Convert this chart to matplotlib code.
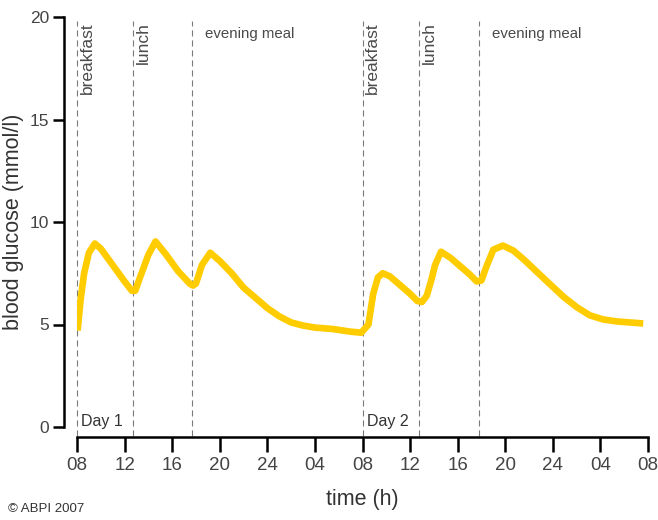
import matplotlib
matplotlib.use("Agg")
import matplotlib.pyplot as plt

# hours since 08:00 on day 1, blood glucose in mmol/l
hours = [0.05, 0.3, 0.6, 1.0, 1.5, 2.0, 3.0, 4.0, 4.6, 4.9, 5.3, 6.0, 6.6,
         7.5, 8.5, 9.5, 9.75, 10.0, 10.5, 11.2, 12.0, 13.0, 14.0, 15.0, 16.0,
         17.0, 18.0, 19.0, 20.0, 21.5, 23.0, 23.9, 24.5, 24.9, 25.3, 25.7,
         26.3, 27.1, 28.0, 28.6, 29.0, 29.4, 29.8, 30.1, 30.6, 31.4, 32.2, 33.0,
         33.6, 34.0, 34.4, 35.0, 35.8, 36.7, 37.6, 38.6, 39.7, 40.9, 42.0, 43.1,
         44.2, 45.35, 46.5, 47.6]
glucose = [4.7, 6.2, 7.5, 8.5, 8.95, 8.7, 7.9, 7.1, 6.65, 6.65, 7.3, 8.4, 9.05,
           8.4, 7.6, 6.98, 6.9, 7.0, 7.9, 8.5, 8.1, 7.5, 6.8, 6.3, 5.8,
           5.4, 5.1, 4.95, 4.85, 4.78, 4.65, 4.6, 5.0, 6.5, 7.3, 7.5,
           7.35, 6.95, 6.5, 6.15, 6.1, 6.4, 7.2, 7.9, 8.55, 8.25, 7.85, 7.45,
           7.1, 7.15, 7.8, 8.65, 8.85, 8.6, 8.15, 7.6, 7.0, 6.35, 5.85, 5.45,
           5.25, 5.15, 5.1, 5.05]

meal_hours = [0.0, 4.7, 9.7, 24.0, 28.75, 33.8]
meal_names = ["breakfast", "lunch", "evening meal", "breakfast", "lunch", "evening meal"]
day_names = ["Day 1", "Day 2"]
day_starts = [0.0, 24.0]

tick_hours = list(range(0, 49, 4))
tick_labels = ["08", "12", "16", "20", "24", "04", "08", "12", "16", "20", "24", "04", "08"]
y_ticks = [0, 5, 10, 15, 20]

FONT = ["Liberation Sans", "DejaVu Sans"]

fig = plt.figure(figsize=(6.58, 5.2), dpi=100)
ax = fig.add_axes([77 / 658, 93 / 520, 571 / 658, 410 / 520])

ax.set_xlim(0, 48)
ax.set_ylim(0, 20)

# meal markers
for h, name in zip(meal_hours, meal_names):
    ax.plot([h, h], [-0.45, 19.8], color="#7a7a7a", lw=0.8, dashes=(5.5, 3.5),
            clip_on=False, zorder=1)
    if name == "evening meal":
        ax.text(h + 1.1, 19.15, name, fontsize=10.8, family=FONT, color="#4a4a4a",
                ha="left", va="center")
    else:
        ax.text(h + 0.85, 19.75, name, fontsize=12.5, family=FONT, color="#4a4a4a",
                rotation=90, ha="center", va="top")

for h, name in zip(day_starts, day_names):
    ax.text(h + 0.35, 0.25, name, fontsize=11.5, family=FONT, color="#333333",
            ha="left", va="center")

ax.plot(hours, glucose, color="#ffcc00", lw=4.8, solid_joinstyle="round",
        solid_capstyle="butt", zorder=3)

for side in ["top", "right"]:
    ax.spines[side].set_visible(False)
ax.spines["left"].set_position(("outward", 9.4))
ax.spines["bottom"].set_position(("outward", 7.2))
ax.spines["left"].set_bounds(0, 20)
ax.spines["bottom"].set_bounds(0, 48)
for side in ["left", "bottom"]:
    ax.spines[side].set_linewidth(1.8)

ax.set_xticks(tick_hours)
ax.set_xticklabels(tick_labels)
ax.set_yticks(y_ticks)
ax.tick_params(axis="x", length=10.8, width=1.8, pad=3.5, labelsize=13.5, labelcolor="#444444")
ax.tick_params(axis="y", length=8, width=1.8, pad=2.5, labelsize=12.5, labelcolor="#444444")
for lab in ax.get_xticklabels() + ax.get_yticklabels():
    lab.set_family(FONT)

fig.text(14 / 658, 1 - 222 / 520, "blood glucose (mmol/l)", rotation=90,
         fontsize=15.5, family=FONT, color="#333333", ha="center", va="center")
fig.text(362 / 658, 1 - 499 / 520, "time (h)", fontsize=15.5, family=FONT,
         color="#333333", ha="center", va="center")
fig.text(8 / 658, 1 - 509 / 520, "\u00a9 ABPI 2007", fontsize=9.5, family=FONT,
         color="#333333", ha="left", va="center")

fig.savefig("out.png", dpi=100)
